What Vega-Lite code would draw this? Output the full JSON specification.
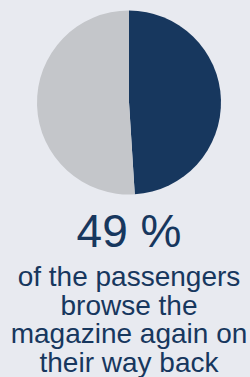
{
  "$schema": "https://vega.github.io/schema/vega-lite/v6.json",
  "width": 242,
  "height": 205,
  "padding": {"left": 8, "right": 0, "top": 0, "bottom": 0},
  "background": "#e8eaf0",
  "config": {"view": {"stroke": null}},
  "data": {"values": [
    {"answer": "yes", "share": 49},
    {"answer": "no", "share": 51}
  ]},
  "title": {
    "text": "49 %",
    "subtitle": ["of the passengers", "browse the", "magazine again on", "their way back"],
    "orient": "bottom",
    "anchor": "middle",
    "font": "Liberation Sans",
    "fontSize": 46,
    "fontWeight": "normal",
    "color": "#17375e",
    "offset": 6,
    "subtitleFont": "Liberation Sans",
    "subtitleFontSize": 28,
    "subtitleColor": "#17375e",
    "subtitleLineHeight": 28.7,
    "subtitlePadding": 7
  },
  "mark": {"type": "arc", "outerRadius": 92, "stroke": null},
  "encoding": {
    "theta": {"field": "share", "type": "quantitative", "stack": true},
    "order": {"field": "answer", "sort": "descending"},
    "color": {
      "field": "answer",
      "type": "nominal",
      "scale": {"domain": ["yes", "no"], "range": ["#17375e", "#c4c6ca"]},
      "legend": null
    }
  }
}
